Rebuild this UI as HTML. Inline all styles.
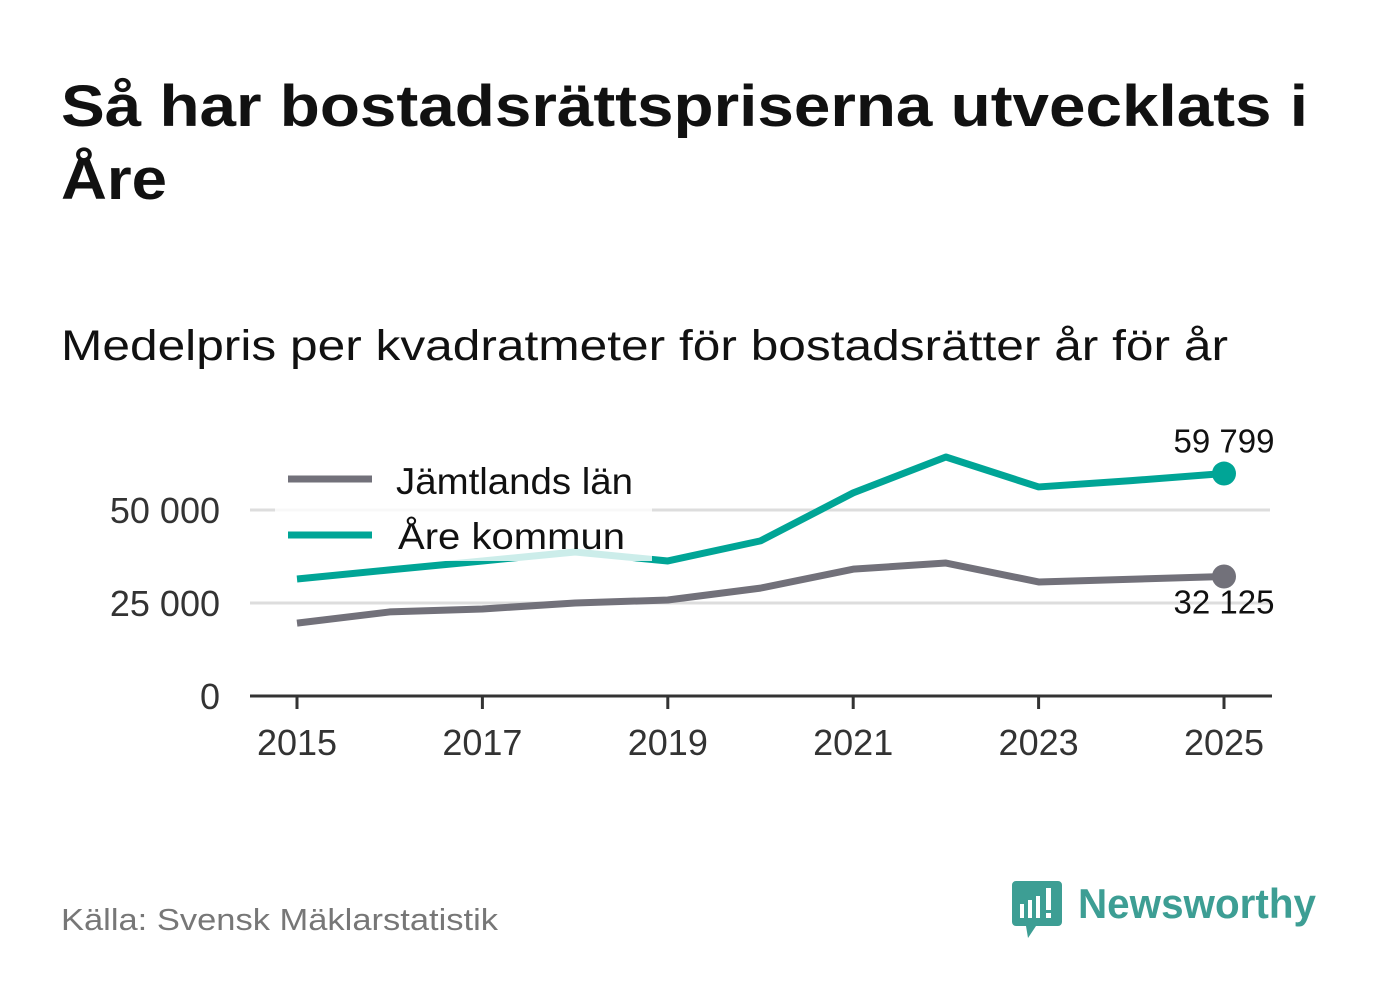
<!DOCTYPE html>
<html><head><meta charset="utf-8"><style>
body{margin:0;width:1382px;height:999px;background:#fff;font-family:"Liberation Sans","DejaVu Sans",sans-serif;overflow:hidden}
svg{position:absolute;left:0;top:0}
</style></head><body>
<svg id="c" width="1382" height="999">
<text x="61" y="126" font-size="58" font-weight="bold" fill="#111" textLength="1247" lengthAdjust="spacingAndGlyphs">Så har bostadsrättspriserna utvecklats i</text>
<text x="61" y="199" font-size="58" font-weight="bold" fill="#111" textLength="106" lengthAdjust="spacingAndGlyphs">Åre</text>
<text x="61" y="360" font-size="43" fill="#111" textLength="1167" lengthAdjust="spacingAndGlyphs">Medelpris per kvadratmeter för bostadsrätter år för år</text>
<g id="grid"></g><g id="lines"></g><g id="axes"></g>
<text x="61" y="930" font-size="31" fill="#777" textLength="437" lengthAdjust="spacingAndGlyphs">Källa: Svensk Mäklarstatistik</text>
<g>
<path d="M1016 881 h42 a4 4 0 0 1 4 4 v37 a4 4 0 0 1 -4 4 h-22 l-8 12 l-2 -12 h-10 a4 4 0 0 1 -4 -4 v-37 a4 4 0 0 1 4 -4z" fill="#3d9e94"/>
<rect x="1020" y="904" width="4" height="14" fill="#fff"/><rect x="1028" y="900" width="4" height="18" fill="#fff"/><rect x="1036" y="896" width="4" height="22" fill="#fff"/><rect x="1046" y="888" width="5" height="22" fill="#fff"/><rect x="1046" y="913" width="5" height="5" fill="#fff"/>
<text x="1078" y="918" font-size="42" font-weight="bold" fill="#3d9e94" textLength="238" lengthAdjust="spacingAndGlyphs">Newsworthy</text>
</g>
</svg>
<script>
const years=[2015,2016,2017,2018,2019,2020,2021,2022,2023,2024,2025];
const jamtland=[19600,22600,23400,25000,25800,29000,34100,35750,30650,31400,32125];
const are=[31450,33900,36300,38700,36300,41700,54600,64250,56200,57900,59799];
const yTicks=[0,25000,50000];
const yTickLabels=["0","25 000","50 000"];
const xTicks=[2015,2017,2019,2021,2023,2025];
const NS="http://www.w3.org/2000/svg";
const X=y=>297+(y-2015)*92.7;
const Y=v=>696-v*93/25000;
function mk(t,a,p){const e=document.createElementNS(NS,t);for(const k in a)e.setAttribute(k,a[k]);p.appendChild(e);return e;}
const grid=document.getElementById('grid'),lines=document.getElementById('lines'),axes=document.getElementById('axes');
yTicks.forEach((v,i)=>{
 if(v>0){const g=mk('line',{x1:250,x2:1270,y1:Y(v),y2:Y(v),stroke:'#ddd','stroke-width':3},grid);
 
 }
 const t=mk('text',{x:220,y:Y(v)+13,'font-size':36,fill:'#333','text-anchor':'end'},axes);t.textContent=yTickLabels[i];
 
 
});
const ax=mk('line',{x1:250,x2:1272,y1:696,y2:696,stroke:'#333','stroke-width':3},axes);


xTicks.forEach(y=>{
 mk('line',{x1:X(y),x2:X(y),y1:696,y2:709,stroke:'#333','stroke-width':3},axes);
 const t=mk('text',{x:X(y),y:755,'font-size':36,fill:'#333','text-anchor':'middle'},axes);t.textContent=y;
 
 
});
function series(d,c,name){
 const p=mk('polyline',{points:d.map((v,i)=>X(years[i])+','+Y(v)).join(' '),fill:'none',stroke:c,'stroke-width':7,'stroke-linejoin':'round'},lines);
 
 
 const n=d.length-1;
 const ci=mk('circle',{cx:X(years[n]),cy:Y(d[n]),r:12,fill:c},lines);
 
 
}
series(jamtland,'#72717a','jamtland');
series(are,'#00a596','are');
function fmt(v){return String(v).replace(/\B(?=(\d{3})+(?!\d))/g,' ');}
let t=mk('text',{x:1224,y:Y(are[10])-21,'font-size':33,fill:'#111','text-anchor':'middle'},lines);t.textContent=fmt(are[10]);


t=mk('text',{x:1224,y:Y(jamtland[10])+37,'font-size':33,fill:'#111','text-anchor':'middle'},lines);t.textContent=fmt(jamtland[10]);


const lg=mk('g',{},lines);


mk('rect',{x:275,y:453,width:377,height:108,fill:'#fff','fill-opacity':0.8},lg);
mk('line',{x1:288,x2:372,y1:479,y2:479,stroke:'#72717a','stroke-width':7},lg);
mk('line',{x1:288,x2:372,y1:535,y2:535,stroke:'#00a596','stroke-width':7},lg);
t=mk('text',{x:396,y:494,'font-size':37,fill:'#111',textLength:237,lengthAdjust:'spacingAndGlyphs'},lg);t.textContent='Jämtlands län';


t=mk('text',{x:398,y:549,'font-size':37,fill:'#111',textLength:227,lengthAdjust:'spacingAndGlyphs'},lg);t.textContent='Åre kommun';


</script>
</body></html>
